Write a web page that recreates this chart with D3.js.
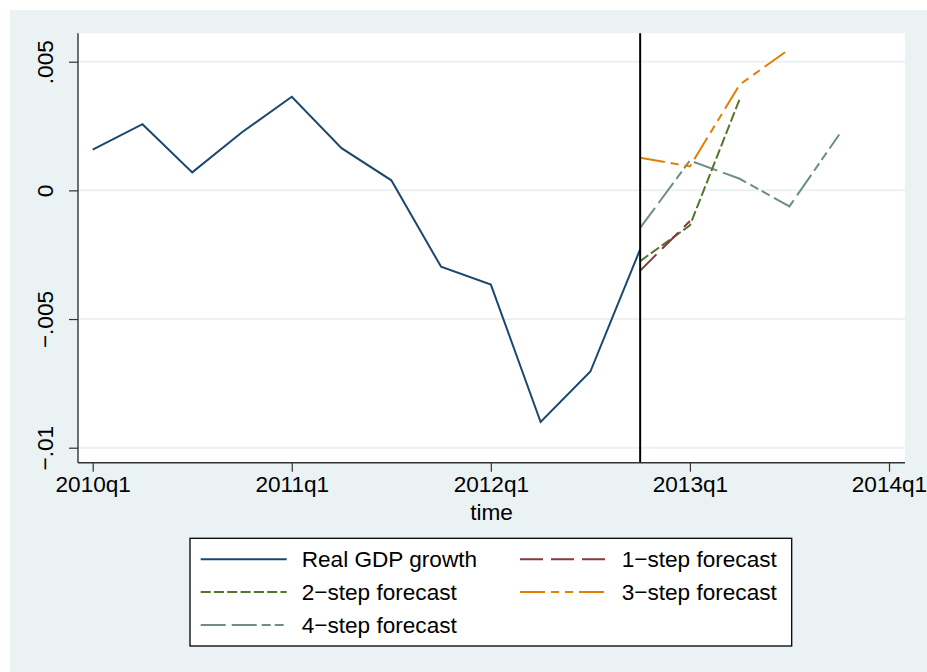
<!DOCTYPE html>
<html>
<head>
<meta charset="utf-8">
<script src="https://cdn.jsdelivr.net/npm/d3@7"></script>
<style>
  html, body { margin: 0; padding: 0; background: #ffffff; }
  svg { display: block; font-family: "Liberation Sans", Arial, sans-serif; }
</style>
</head>
<body>
<svg id="chart" width="927" height="672"></svg>
<script>
// Quarter index 0 = 2010q1
const gdpQuarters = [0, 1, 2, 3, 4, 5, 6, 7, 8, 9, 10, 11];
const gdpGrowth = [0.00158, 0.00257, 0.00070, 0.00226, 0.00364, 0.00164,
                   0.00039, -0.00297, -0.00366, -0.00900, -0.00704, -0.00229];

const step1Quarters = [11, 12];
const step1Values = [-0.00312, -0.00119];
const step2Quarters = [11, 12, 13];
const step2Values = [-0.00275, -0.00136, 0.00355];
const step3Quarters = [11, 12, 13, 14];
const step3Values = [0.00127, 0.00093, 0.00411, 0.00549];
const step4Quarters = [11, 12, 13, 14, 15];
const step4Values = [-0.00146, 0.00116, 0.00045, -0.00062, 0.00217];

const forecastOrigin = 11; // 2012q4

const xTickQuarters = [0, 4, 8, 12, 16];
const xTickLabels = ["2010q1", "2011q1", "2012q1", "2013q1", "2014q1"];
const yTickValues = [-0.01, -0.005, 0, 0.005];
const yTickLabels = ["\u2212.01", "\u2212.005", "0", ".005"];

const seriesNames = ["Real GDP growth", "1\u2212step forecast", "2\u2212step forecast",
                     "3\u2212step forecast", "4\u2212step forecast"];

const FONT = 22.6;

const svg = d3.select("#chart");
const W = 927, H = 672;
const plot = { left: 78, right: 905, top: 33.3, bottom: 462.7 };

// graph region
svg.append("rect").attr("x", 10).attr("y", 10).attr("width", W - 10).attr("height", H - 10)
  .attr("fill", "#eaf2f3");
// plot region
svg.append("rect").attr("x", plot.left).attr("y", plot.top)
  .attr("width", plot.right - plot.left).attr("height", plot.bottom - plot.top)
  .attr("fill", "#ffffff");

const x = d3.scaleLinear().domain([0, 16]).range([92.7, 889]);
const y = d3.scaleLinear().domain([-0.01, 0.005]).range([447.7, 61.7]);

// horizontal grid lines
svg.append("g").selectAll("line").data(yTickValues).join("line")
  .attr("x1", plot.left).attr("x2", plot.right)
  .attr("y1", d => y(d)).attr("y2", d => y(d))
  .attr("stroke", "#eaf2f3").attr("stroke-width", 2);

const series = [
  { q: gdpQuarters, v: gdpGrowth, color: "#1a476f", dash: null },
  { q: step1Quarters, v: step1Values, color: "#90353b", dash: "23,8" },
  { q: step2Quarters, v: step2Values, color: "#55752f", dash: "10,3.3" },
  { q: step3Quarters, v: step3Values, color: "#e37e00", dash: "25,6,8,6,8,6" },
  { q: step4Quarters, v: step4Values, color: "#6e8e84", dash: "25,6,25,5,9,4,9,5" }
];

const line = d3.line().x(d => x(d[0])).y(d => y(d[1]));

// draw order: forecasts under the actual series, 4-step first
const drawOrder = [4, 3, 2, 1, 0];
drawOrder.forEach(i => {
  const s = series[i];
  svg.append("path")
    .datum(s.q.map((q, k) => [q, s.v[k]]))
    .attr("d", line)
    .attr("fill", "none")
    .attr("stroke", s.color)
    .attr("stroke-width", 2)
    .attr("stroke-linejoin", "miter")
    .attr("stroke-dasharray", s.dash);
});

// forecast origin marker
svg.append("line")
  .attr("x1", x(forecastOrigin)).attr("x2", x(forecastOrigin))
  .attr("y1", plot.top).attr("y2", plot.bottom)
  .attr("stroke", "#000").attr("stroke-width", 2);

// axes
const xAxis = d3.axisBottom(x).tickValues(xTickQuarters)
  .tickFormat((d, i) => xTickLabels[i]).tickSize(9).tickSizeOuter(0).tickPadding(4);
const gx = svg.append("g").attr("transform", `translate(0,${plot.bottom})`).call(xAxis);
gx.select(".domain").attr("d", `M${plot.left},0H${plot.right}`).attr("stroke", "#333").attr("stroke-width", 1.4);
gx.selectAll(".tick line").attr("stroke", "#333").attr("stroke-width", 1.2);
gx.selectAll(".tick text").attr("font-size", FONT).attr("fill", "#000")
  .attr("font-family", "Liberation Sans, Arial, sans-serif");

const yAxis = d3.axisLeft(y).tickValues(yTickValues)
  .tickFormat((d, i) => yTickLabels[i]).tickSize(9).tickSizeOuter(0);
const gy = svg.append("g").attr("transform", `translate(${plot.left},0)`).call(yAxis);
gy.select(".domain").attr("d", `M0,${plot.top}V${plot.bottom}`).attr("stroke", "#333").attr("stroke-width", 1.4);
gy.selectAll(".tick line").attr("stroke", "#333").attr("stroke-width", 1.2);
gy.selectAll(".tick text")
  .attr("font-size", FONT).attr("fill", "#000")
  .attr("font-family", "Liberation Sans, Arial, sans-serif")
  .attr("x", null).attr("dy", null)
  .attr("text-anchor", "middle")
  .attr("transform", "translate(-25,0) rotate(-90)");

// x axis title
svg.append("text").attr("x", (plot.left + plot.right) / 2).attr("y", 520)
  .attr("text-anchor", "middle").attr("font-size", FONT).attr("fill", "#000")
  .text("time");

// legend
const legend = { x: 190, y: 538.3, w: 601.7, h: 107.7 };
svg.append("rect").attr("x", legend.x).attr("y", legend.y)
  .attr("width", legend.w).attr("height", legend.h)
  .attr("fill", "#fff").attr("stroke", "#000").attr("stroke-width", 1.3);

const rowY = [559.3, 592, 625];
const colX = [{ l1: 200.7, l2: 286.7, t: 301.7 }, { l1: 520, l2: 606, t: 621.7 }];
series.forEach((s, i) => {
  const row = Math.floor(i / 2), col = i % 2;
  const cy = rowY[row], c = colX[col];
  svg.append("line").attr("x1", c.l1).attr("x2", c.l2).attr("y1", cy).attr("y2", cy)
    .attr("stroke", s.color).attr("stroke-width", 2).attr("stroke-dasharray", s.dash);
  svg.append("text").attr("x", c.t).attr("y", cy + 8)
    .attr("font-size", FONT).attr("fill", "#000").text(seriesNames[i]);
});
</script>
</body>
</html>
